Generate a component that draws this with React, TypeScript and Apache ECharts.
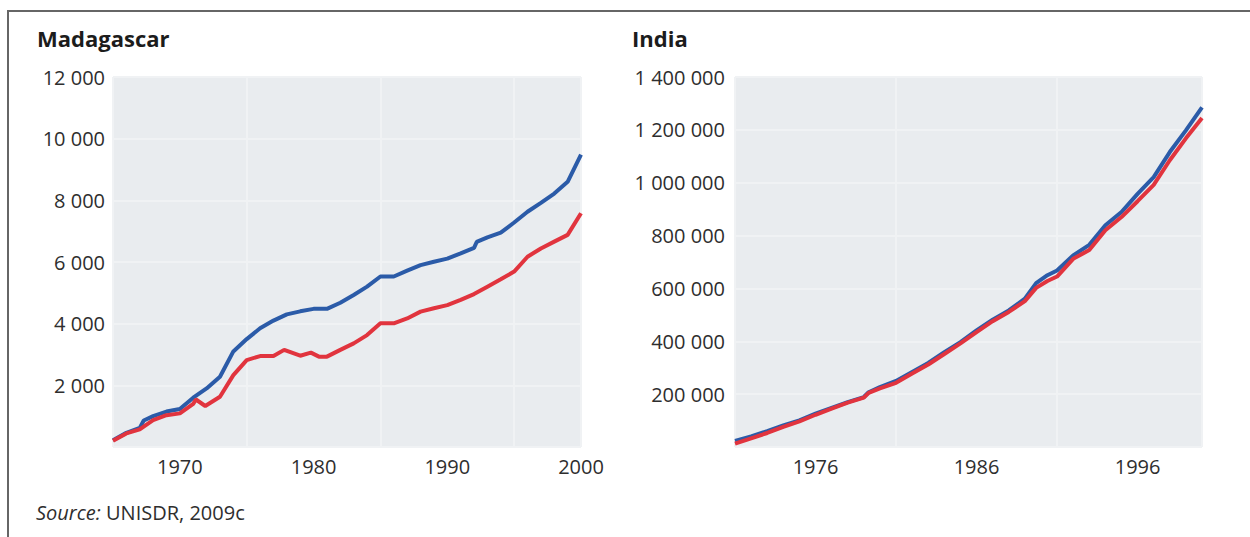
import React, { useEffect, useRef } from "react";
import * as echarts from "echarts";

// Madagascar
const mdgBlueYears = [1965, 1966, 1967, 1967.3, 1968, 1969, 1970, 1971, 1972, 1973, 1974, 1975, 1976, 1977, 1978, 1979, 1980, 1981, 1982, 1983, 1984, 1985, 1986, 1987, 1988, 1989, 1990, 1991, 1992, 1992.2, 1993, 1994, 1995, 1996, 1997, 1998, 1999, 2000];
const mdgBlue = [220, 460, 620, 860, 1000, 1150, 1230, 1600, 1900, 2280, 3100, 3500, 3850, 4100, 4300, 4400, 4480, 4480, 4680, 4930, 5200, 5530, 5530, 5720, 5900, 6010, 6110, 6280, 6460, 6650, 6800, 6950, 7280, 7630, 7920, 8220, 8600, 9480];
const mdgRedYears = [1965, 1966, 1967, 1968, 1969, 1970, 1971, 1971.2, 1971.9, 1973, 1974, 1975, 1976, 1977, 1977.8, 1979, 1979.8, 1980.4, 1981, 1982, 1983, 1984, 1985, 1986, 1987, 1988, 1989, 1990, 1991, 1992, 1993, 1994, 1995, 1996, 1997, 1998, 1999, 2000];
const mdgRed = [200, 440, 570, 870, 1030, 1090, 1400, 1540, 1330, 1630, 2330, 2820, 2950, 2950, 3150, 2960, 3060, 2930, 2930, 3150, 3360, 3630, 4010, 4010, 4170, 4390, 4500, 4600, 4770, 4960, 5200, 5440, 5690, 6170, 6440, 6660, 6880, 7580];

// India
const indBlueYears = [1971, 1972, 1973, 1974, 1975, 1976, 1977, 1978, 1979, 1979.3, 1980, 1981, 1982, 1983, 1984, 1985, 1986, 1987, 1988, 1989, 1989.7, 1990.4, 1991, 1992, 1993, 1994, 1995, 1996, 1997, 1998, 1999, 2000];
const indBlue = [23000, 40000, 60000, 82000, 101000, 126000, 148000, 170000, 189000, 207000, 227000, 250000, 284000, 318000, 359000, 397000, 441000, 482000, 517000, 561000, 620000, 650000, 668000, 725000, 765000, 839000, 889000, 958000, 1021000, 1116000, 1198000, 1285000];
const indRedYears = [1971, 1972, 1973, 1974, 1975, 1976, 1977, 1978, 1979, 1979.3, 1980, 1981, 1982, 1983, 1984, 1985, 1986, 1987, 1988, 1989, 1989.7, 1990.4, 1991, 1992, 1993, 1994, 1995, 1996, 1997, 1998, 1999, 2000];
const indRed = [13000, 33000, 53000, 76000, 97000, 122000, 145000, 168000, 187000, 205000, 222000, 243000, 278000, 312000, 352000, 392000, 435000, 476000, 511000, 552000, 602000, 628000, 645000, 712000, 745000, 820000, 870000, 930000, 992000, 1085000, 1168000, 1245000];

const mdgXLabels = [1970, 1980, 1990, 2000];
const indXLabels = [1976, 1986, 1996];

const FONT = "'Open Sans', 'Noto Sans', sans-serif";
const BLUE = "#2b5ba8";
const RED = "#e1343e";
const PLOT_BG = "#e9ecef";
const GRID_LINE = "#f0f2f4";
const TEXT = "#2e2e2e";

const zip = (xs: number[], ys: number[]) => xs.map((x, i) => [x, ys[i]]);
const fmtThousands = (v: number) =>
  v === 0 ? "" : String(Math.round(v)).replace(/\B(?=(\d{3})+(?!\d))/g, " ");

export default function App() {
  const ref = useRef<HTMLDivElement>(null);

  useEffect(() => {
    if (!ref.current) return;
    const chart = echarts.init(ref.current, undefined, { renderer: "svg" });

    const gridBase = { show: true, backgroundColor: PLOT_BG, borderWidth: 0, containLabel: false };
    const hiddenAxisParts = { axisLine: { show: false }, axisTick: { show: false } };
    const labelStyle = { fontSize: 20, color: TEXT, fontFamily: FONT };
    const titleStyle = { fontSize: 22, fontWeight: "bold", color: "#1c1c1c", fontFamily: FONT };

    const option: any = {
      animation: false,
      backgroundColor: "#ffffff",
      title: [
        { text: "Madagascar", left: 37, top: 27, padding: 0, textStyle: titleStyle },
        { text: "India", left: 632, top: 27, padding: 0, textStyle: titleStyle },
      ],
      grid: [
        { ...gridBase, left: 113, top: 77, width: 468, height: 370 },
        { ...gridBase, left: 735, top: 77, width: 467, height: 370 },
      ],
      xAxis: [
        {
          type: "value", gridIndex: 0, position: "bottom", min: 1965, max: 2000, interval: 10,
          ...hiddenAxisParts, axisLabel: { show: false },
          splitLine: { show: true, lineStyle: { color: GRID_LINE, width: 2 } },
        },
        {
          type: "value", gridIndex: 0, position: "bottom", min: 1965, max: 2000, interval: 5,
          ...hiddenAxisParts, splitLine: { show: false },
          axisLabel: {
            ...labelStyle, margin: 9,
            formatter: (v: number) => (mdgXLabels.includes(Math.round(v)) ? String(Math.round(v)) : ""),
          },
        },
        {
          type: "value", gridIndex: 1, position: "bottom", min: 1971, max: 2000, interval: 10,
          ...hiddenAxisParts, axisLabel: { show: false },
          splitLine: { show: true, lineStyle: { color: GRID_LINE, width: 2 } },
        },
        {
          type: "value", gridIndex: 1, position: "bottom", min: 1971, max: 2000, interval: 5,
          ...hiddenAxisParts, splitLine: { show: false },
          axisLabel: {
            ...labelStyle, margin: 9,
            formatter: (v: number) => (indXLabels.includes(Math.round(v)) ? String(Math.round(v)) : ""),
          },
        },
      ],
      yAxis: [
        {
          type: "value", gridIndex: 0, min: 0, max: 12000, interval: 2000,
          ...hiddenAxisParts,
          axisLabel: { ...labelStyle, margin: 8, formatter: fmtThousands },
          splitLine: { show: true, lineStyle: { color: GRID_LINE, width: 2 } },
        },
        {
          type: "value", gridIndex: 1, min: 0, max: 1400000, interval: 200000,
          ...hiddenAxisParts,
          axisLabel: { ...labelStyle, margin: 10, formatter: fmtThousands },
          splitLine: { show: true, lineStyle: { color: GRID_LINE, width: 2 } },
        },
      ],
      series: [
        { name: "Madagascar blue", type: "line", xAxisIndex: 0, yAxisIndex: 0, data: zip(mdgBlueYears, mdgBlue), showSymbol: false, symbol: "none", lineStyle: { color: BLUE, width: 4 }, itemStyle: { color: BLUE } },
        { name: "Madagascar red", type: "line", xAxisIndex: 0, yAxisIndex: 0, data: zip(mdgRedYears, mdgRed), showSymbol: false, symbol: "none", lineStyle: { color: RED, width: 4 }, itemStyle: { color: RED } },
        { name: "India blue", type: "line", xAxisIndex: 2, yAxisIndex: 1, data: zip(indBlueYears, indBlue), showSymbol: false, symbol: "none", lineStyle: { color: BLUE, width: 4 }, itemStyle: { color: BLUE } },
        { name: "India red", type: "line", xAxisIndex: 2, yAxisIndex: 1, data: zip(indRedYears, indRed), showSymbol: false, symbol: "none", lineStyle: { color: RED, width: 4 }, itemStyle: { color: RED } },
      ],
      graphic: [
        { type: "line", shape: { x1: 7, y1: 11, x2: 1250, y2: 11 }, style: { stroke: "#666666", lineWidth: 2 }, silent: true },
        { type: "line", shape: { x1: 8, y1: 10, x2: 8, y2: 537 }, style: { stroke: "#666666", lineWidth: 2 }, silent: true },
        {
          type: "text", left: 36, top: 502, silent: true,
          style: {
            text: "{i|Source:} UNISDR, 2009c",
            fontSize: 20, fontFamily: FONT, fill: TEXT,
            rich: { i: { fontStyle: "italic", fontSize: 20, fontFamily: FONT, fill: TEXT } },
          },
        },
      ],
    };

    chart.setOption(option);
    return () => chart.dispose();
  }, []);

  return (
    <div
      ref={ref}
      style={{ position: "fixed", left: 0, top: 0, width: 1250, height: 537, background: "#fff" }}
    />
  );
}
